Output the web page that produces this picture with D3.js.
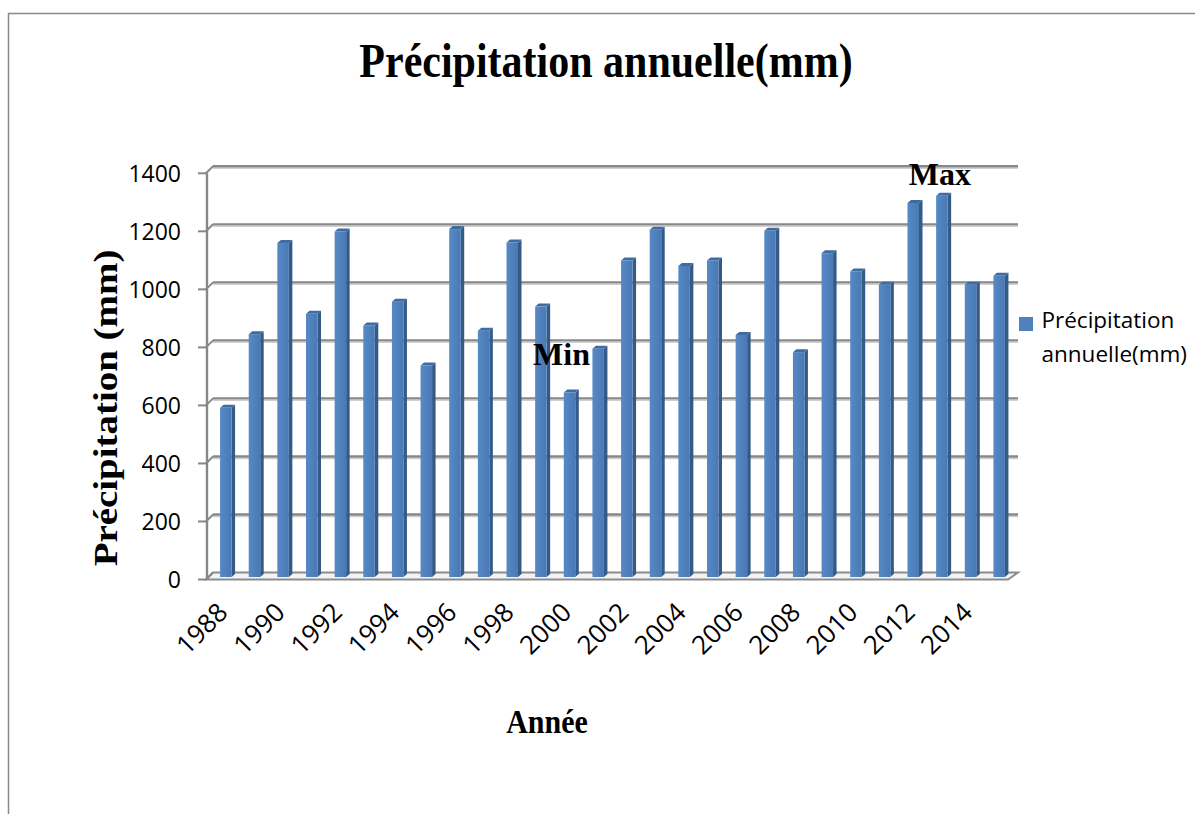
<!DOCTYPE html>
<html>
<head>
<meta charset="utf-8">
<script src="https://cdn.jsdelivr.net/npm/d3@7"></script>
<style>
  html, body { margin: 0; padding: 0; background: #fff; }
  svg { display: block; }
</style>
</head>
<body>
<svg id="chart" width="1195" height="814"></svg>
<script>
// ---- data ----
const years = [1988,1989,1990,1991,1992,1993,1994,1995,1996,1997,1998,1999,2000,2001,
               2002,2003,2004,2005,2006,2007,2008,2009,2010,2011,2012,2013,2014,2015];
const precipitation = [583,837,1151,907,1191,867,949,729,1199,849,1153,932,636,787,
                       1091,1197,1072,1091,834,1193,775,1116,1053,1007,1289,1314,1007,1038];
const yTicks = [0,200,400,600,800,1000,1200,1400];
const xTickLabels = [1988,1990,1992,1994,1996,1998,2000,2002,2004,2006,2008,2010,2012,2014];
const seriesName = ["Précipitation", "annuelle(mm)"];
const titleText = "Précipitation annuelle(mm)";
const yTitle = "Précipitation (mm)";
const xTitle = "Année";
const annotations = [{year: 2000, text: "Min", dx: -8, dy: -30}, {year: 2013, text: "Max", dx: -2, dy: -13}];

// ---- layout ----
const svg = d3.select("#chart");
const DX = 7, DY = -7;          // depth offset of the back wall
const x = d3.scaleBand().domain(years).range([206, 1008]).padding(0);
const y = d3.scaleLinear().domain([0, 1400]).range([579.5, 173.3]);
const barW = 11.5, barShift = 5.5, sideDX = 3.5, sideDY = -3, barDepth = 2.5;
const serif = "'Liberation Serif', 'Times New Roman', serif";
const sans = "'Open Sans', sans-serif";

// outer frame
svg.append("path").attr("d", "M8.5,814 L8.5,13.5 L1195,13.5")
  .attr("fill", "none").attr("stroke", "#8a8a8a").attr("stroke-width", 1.5);

const defs = svg.append("defs");
const grad = defs.append("linearGradient").attr("id", "front").attr("x1", 0).attr("x2", 1).attr("y1", 0).attr("y2", 0);
grad.append("stop").attr("offset", "0%").attr("stop-color", "#5589c6");
grad.append("stop").attr("offset", "100%").attr("stop-color", "#4a79b3");

// floor
const floorG = svg.append("g");
const x0 = 206, x1 = 1008, yb = y(0);
floorG.append("path")
  .attr("d", `M${x0},${yb} L${x1},${yb} L${x1+DX+3},${yb+DY} L${x0+DX},${yb+DY} Z`)
  .attr("fill", "#f3f3f3").attr("stroke", "#8c8c8c").attr("stroke-width", 2);

// gridlines on back wall + side wall
const grid = svg.append("g");
yTicks.forEach(t => {
  const yy = y(t);
  if (t > 0) {
    grid.append("line").attr("x1", x0+DX).attr("x2", x1+DX+3).attr("y1", yy+DY+2).attr("y2", yy+DY+2)
      .attr("stroke", "#cfcfcf").attr("stroke-width", 1.4);
    grid.append("line").attr("x1", x0+DX).attr("x2", x1+DX+3).attr("y1", yy+DY).attr("y2", yy+DY)
      .attr("stroke", "#878787").attr("stroke-width", 2.4);
  }
  grid.append("line").attr("x1", x0).attr("x2", x0+DX).attr("y1", yy).attr("y2", yy+DY)
    .attr("stroke", "#878787").attr("stroke-width", 2);
  grid.append("line").attr("x1", x0-8).attr("x2", x0).attr("y1", yy).attr("y2", yy)
    .attr("stroke", "#878787").attr("stroke-width", 2);
});
// front vertical axis
grid.append("line").attr("x1", x0+1).attr("x2", x0+1).attr("y1", y(1400)).attr("y2", yb)
  .attr("stroke", "#878787").attr("stroke-width", 2.4);

// bars
const bars = svg.append("g").selectAll("g").data(years.map((yr, i) => ({yr, v: precipitation[i]}))).join("g");
bars.each(function(d) {
  const g = d3.select(this);
  const left = x(d.yr) + x.bandwidth()/2 + barShift - barW/2;
  const top = y(d.v) - barDepth;
  const bottom = yb - barDepth;
  g.append("path")
    .attr("d", `M${left+barW},${top} L${left+barW+sideDX},${top+sideDY} L${left+barW+sideDX},${bottom+sideDY} L${left+barW},${bottom} Z`)
    .attr("fill", "#345a88");
  g.append("path")
    .attr("d", `M${left},${top} L${left+sideDX},${top+sideDY} L${left+barW+sideDX},${top+sideDY} L${left+barW},${top} Z`)
    .attr("fill", "#3f6ba3");
  g.append("rect").attr("x", left).attr("y", top).attr("width", barW).attr("height", bottom - top)
    .attr("fill", "url(#front)");
});

// y tick labels
svg.append("g").selectAll("text").data(yTicks).join("text")
  .attr("x", 181).attr("y", d => y(d)).attr("dy", "0.36em")
  .attr("text-anchor", "end").attr("font-family", sans).attr("font-size", 23).attr("fill", "#000")
  .text(d => d);

// x tick labels
svg.append("g").selectAll("text").data(xTickLabels).join("text")
  .attr("transform", d => `translate(${x(d) + x.bandwidth()/2 - 4},${601}) rotate(-45)`)
  .attr("text-anchor", "end").attr("dy", "0.7em").attr("font-family", sans).attr("font-size", 26).attr("fill", "#000")
  .text(d => d);

// title
svg.append("text").attr("transform", "translate(606,77) scale(1,1.18)")
  .attr("text-anchor", "middle").attr("font-family", serif).attr("font-weight", "bold").attr("font-size", 42)
  .text(titleText);

// axis titles
svg.append("text").attr("transform", "translate(117,408) rotate(-90) scale(1.18,1)")
  .attr("text-anchor", "middle").attr("font-family", serif).attr("font-weight", "bold").attr("font-size", 33)
  .text(yTitle);
svg.append("text").attr("transform", "translate(547,733) scale(1,1.12)")
  .attr("text-anchor", "middle").attr("font-family", serif).attr("font-weight", "bold").attr("font-size", 30)
  .text(xTitle);

// annotations
annotations.forEach(a => {
  const i = years.indexOf(a.year);
  svg.append("text")
    .attr("x", x(a.year) + x.bandwidth()/2 + barShift + a.dx)
    .attr("y", y(precipitation[i]) + a.dy)
    .attr("text-anchor", "middle").attr("font-family", serif).attr("font-weight", "bold").attr("font-size", 32)
    .text(a.text);
});

// legend
const lg = svg.append("g");
lg.append("rect").attr("x", 1019).attr("y", 317).attr("width", 14).attr("height", 14).attr("fill", "#4f81bd");
lg.selectAll("text").data(seriesName).join("text")
  .attr("x", 1041.5).attr("y", (d, i) => 328 + i * 33.7)
  .attr("font-family", sans).attr("font-size", 22.5).attr("fill", "#000")
  .text(d => d);
</script>
</body>
</html>
